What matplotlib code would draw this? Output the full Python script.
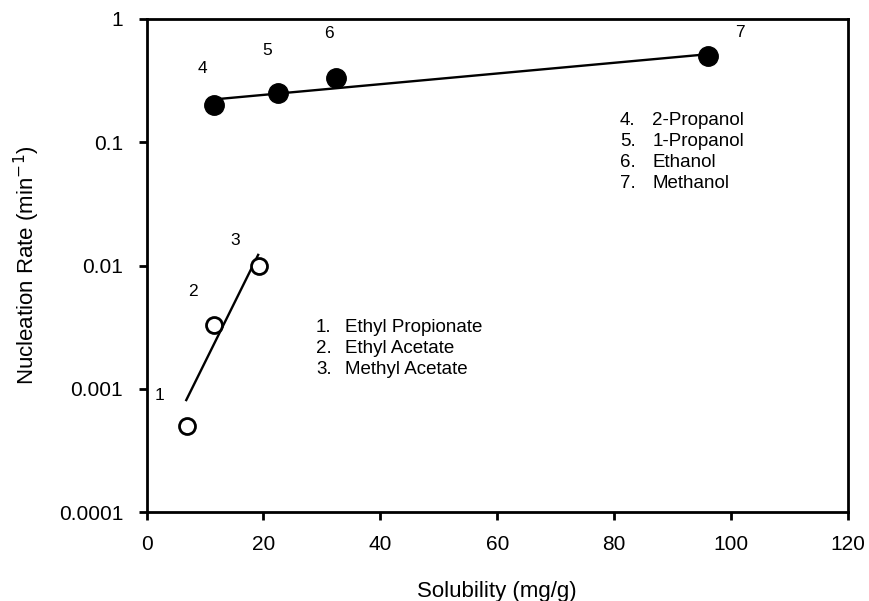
import matplotlib
matplotlib.use('Agg')
from matplotlib import pyplot as plt

plt.rcParams['font.family'] = ['Liberation Sans', 'DejaVu Sans']

# esters (open circles)
ester_x = [7.0, 11.5, 19.3]
ester_y = [0.0005, 0.0033, 0.010]
ester_fit_x = [6.8, 19.1]
ester_fit_y = [0.00081, 0.0122]
ester_ids = ['1', '2', '3']
ester_names = ['Ethyl Propionate', 'Ethyl Acetate', 'Methyl Acetate']

# alcohols (filled circles)
alc_x = [11.5, 22.5, 32.5, 96.0]
alc_y = [0.20, 0.25, 0.33, 0.50]
alc_fit_x = [12.6, 94.5]
alc_fit_y = [0.225, 0.51]
alc_ids = ['4', '5', '6', '7']
alc_names = ['2-Propanol', '1-Propanol', 'Ethanol', 'Methanol']

xticks = [0, 20, 40, 60, 80, 100, 120]
yticks = [0.0001, 0.001, 0.01, 0.1, 1]
ytick_labels = ['0.0001', '0.001', '0.01', '0.1', '1']

fig = plt.figure(figsize=(8.7, 6.01), dpi=100)
ax = fig.add_axes([0.1684, 0.148, 0.8063, 0.8204])

ax.plot(ester_fit_x, ester_fit_y, color='black', lw=1.7)
ax.plot(alc_fit_x, alc_fit_y, color='black', lw=1.7)
ax.plot(ester_x, ester_y, 'o', ms=11.5, mfc='white', mec='black', mew=2)
ax.plot(alc_x, alc_y, 'o', ms=14, mfc='black', mec='black')

# point numbers: (x shift, y factor) from each marker
ester_lab_off = [(-4.7, 1.78), (-3.55, 1.85), (-4.2, 1.61)]
for x, y, s, (dx, f) in zip(ester_x, ester_y, ester_ids, ester_lab_off):
    ax.text(x + dx, y * f, s, fontsize=12.5, ha='center', va='center')
alc_lab_off = [(-1.85, 2.0), (-1.9, 2.2), (-1.3, 2.33), (5.5, 1.54)]
for x, y, s, (dx, f) in zip(alc_x, alc_y, alc_ids, alc_lab_off):
    ax.text(x + dx, y * f, s, fontsize=12.5, ha='center', va='center')

# key lists, numbers and names in two columns
step = 0.0426
for k, (i, n) in enumerate(zip(ester_ids, ester_names)):
    yy = 0.375 - k * step
    ax.text(0.2416, yy, i + '.', transform=ax.transAxes, fontsize=13.5, va='center')
    ax.text(0.283, yy, n, transform=ax.transAxes, fontsize=13.5, va='center')
for k, (i, n) in enumerate(zip(alc_ids, alc_names)):
    yy = 0.795 - k * step
    ax.text(0.675, yy, i + '.', transform=ax.transAxes, fontsize=13.5, va='center')
    ax.text(0.721, yy, n, transform=ax.transAxes, fontsize=13.5, va='center')

ax.set_yscale('log')
ax.set_xlim(0, 120)
ax.set_ylim(0.0001, 1)
ax.set_xticks(xticks)
ax.set_xticklabels([str(t) for t in xticks])
ax.set_yticks(yticks)
ax.set_yticklabels(ytick_labels)
ax.minorticks_off()
ax.tick_params(axis='both', direction='out', length=5.8, width=2, labelsize=15, pad=11)
for sp in ax.spines.values():
    sp.set_linewidth(2)

ax.set_xlabel('Solubility (mg/g)', fontsize=16, labelpad=19)
ax.set_ylabel('Nucleation Rate (min$^{-1}$)', fontsize=16, labelpad=12)

fig.savefig('out.png', dpi=100)
